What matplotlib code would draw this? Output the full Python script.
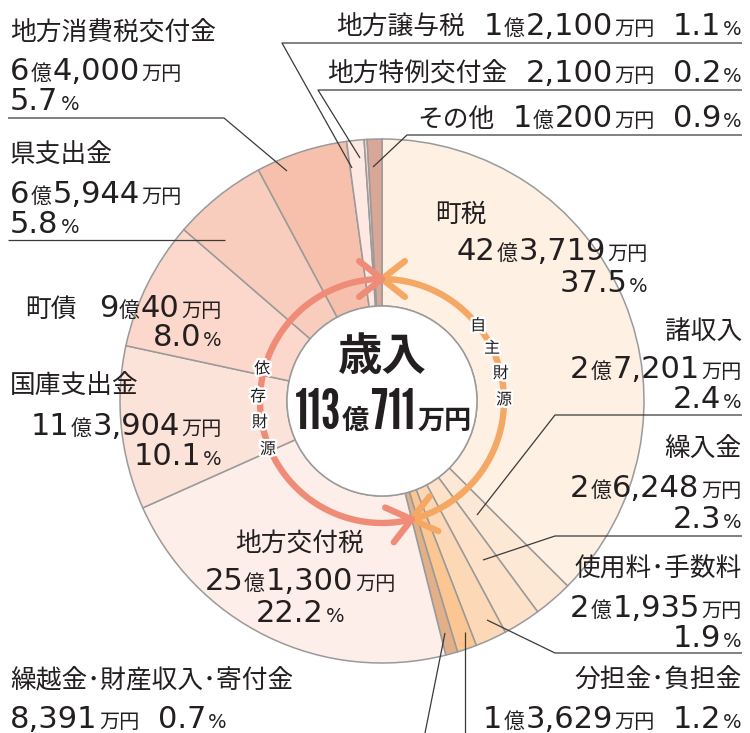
import numpy as np
import matplotlib
matplotlib.use('Agg')
import matplotlib.pyplot as plt
import matplotlib.patheffects as pe
from matplotlib.patches import Circle

# ---------------- data ----------------
categories = ['町税', '諸収入', '繰入金', '使用料･手数料', '分担金･負担金',
              '繰越金･財産収入･寄付金', '地方交付税', '国庫支出金', '町債',
              '県支出金', '地方消費税交付金', '地方譲与税', '地方特例交付金', 'その他']
amounts = [423719, 27201, 26248, 21935, 13629, 8391, 251300, 113904, 90040,
           65944, 64000, 12100, 2100, 10200]          # 万円
percents = [37.5, 2.4, 2.3, 1.9, 1.2, 0.7, 22.2, 10.1, 8.0, 5.8, 5.7, 1.1, 0.2, 0.9]
colors = ['#FEF0E3', '#FDE8D5', '#FDE1C8', '#FCD8B6', '#FBC692', '#E2B088',
          '#FDEEEA', '#FCE3DA', '#FBD8CB', '#F9CDBD', '#F6C0AC', '#FDE8E2',
          '#F9D5CA', '#D9A797']
n_self = 6                       # 自主財源 = first six categories
center_title = '歳入'
self_label = '自主財源'
dep_label = '依存財源'

# ---------------- figure ----------------
W, H = 750, 733
fig = plt.figure(figsize=(W / 100, H / 100), dpi=100)
ax = fig.add_axes([0, 0, 1, 1])
CX, CY, R_OUT, R_IN, R_ARR = 382, 401, 262, 95, 122
EDGE = '#9a9a9a'
TXT = '#231f20'

ax.pie(amounts, colors=colors, startangle=-90, counterclock=True,
       radius=R_OUT, center=(CX, CY),
       wedgeprops=dict(width=R_OUT - R_IN, edgecolor=EDGE, linewidth=1.1))
ax.add_patch(Circle((CX, CY), R_IN, facecolor='white', edgecolor=EDGE,
                    linewidth=1.1, zorder=3))
ax.set_xlim(0, W)
ax.set_ylim(H, 0)
ax.set_aspect('equal')
ax.axis('off')

renderer = fig.canvas.get_renderer()

# ---------------- arrows (自主財源 / 依存財源) ----------------
def pt(a_deg, r):
    a = np.radians(a_deg)
    return CX + r * np.cos(a), CY - r * np.sin(a)

total = sum(amounts)
self_frac = sum(amounts[:n_self]) / total
a_top = 90.0
a_bot = 90.0 - 360.0 * self_frac          # screen angle (math orientation)

ORANGE = '#F5A764'
SALMON = '#EF8C77'
LW_ARR = 4.6

def chevron(a_deg, back_sign, color):
    tip = np.array(pt(a_deg, R_ARR))
    a = np.radians(a_deg)
    t_ccw = np.array([-np.sin(a), -np.cos(a)])
    back = back_sign * t_ccw
    L = 29
    for rot in (38, -38):
        r = np.radians(rot)
        rm = np.array([[np.cos(r), -np.sin(r)], [np.sin(r), np.cos(r)]])
        d = rm @ back
        e = tip + L * d
        ax.plot([tip[0], e[0]], [tip[1], e[1]], color=color, lw=LW_ARR,
                solid_capstyle='round', zorder=5)

ang = np.linspace(a_bot + 1.5, a_top - 1.5, 200)
xs, ys = pt(ang, R_ARR)
ax.plot(xs, ys, color=ORANGE, lw=LW_ARR, solid_capstyle='round', zorder=5)
chevron(a_top, -1, ORANGE)
chevron(a_bot, +1, ORANGE)
ang = np.linspace(a_top + 1.5, a_bot + 360 - 1.5, 300)
xs, ys = pt(ang, R_ARR)
ax.plot(xs, ys, color=SALMON, lw=LW_ARR, solid_capstyle='round', zorder=5)
chevron(a_top, +1, SALMON)
chevron(a_bot + 360, -1, SALMON)

outline = [pe.withStroke(linewidth=3.5, foreground='white')]
for ch, a in zip(self_label, [38, 25.5, 13, 0.5]):
    x, y = pt(a, R_ARR)
    ax.text(x, y, ch, fontsize=11.5, family=['Noto Sans CJK JP'], color=TXT,
            ha='center', va='center', path_effects=outline, zorder=6)
for ch, a in zip(dep_label, [165, 178, 190, 203]):
    x, y = pt(a, R_ARR + 2)
    ax.text(x, y, ch, fontsize=11.5, family=['Noto Sans CJK JP'], color=TXT,
            ha='center', va='center', path_effects=outline, zorder=6)

# ---------------- text helpers ----------------
CJK = ['Noto Sans CJK JP', 'DejaVu Sans']
COND = ['League Gothic', 'Oswald', 'Barlow Condensed', 'Roboto Condensed', 'DejaVu Sans']
STY = {
    'lbl': dict(fontsize=18.5, family=CJK),
    'num': dict(fontsize=22, family=['DejaVu Sans']),
    'oku': dict(fontsize=15, family=CJK),
    'man': dict(fontsize=14.5, family=CJK),
    'pct': dict(fontsize=14, family=['DejaVu Sans']),
    'tnum': dict(fontsize=36, family=COND, weight='bold'),
    'tkan': dict(fontsize=19.5, family=CJK, weight='bold'),
}

# fit the condensed digit size so that "113" is about 50 px wide
_probe = ax.text(0, 0, '113', **STY['tnum'])
_w = _probe.get_window_extent(renderer).width
_probe.remove()
STY['tnum']['fontsize'] = float(np.clip(36 * 50.0 / _w, 24, 40))

def put_runs(x, y, parts, ha='left', zorder=7):
    items, tot = [], 0.0
    for p in parts:
        if isinstance(p, (int, float)):
            items.append((None, p))
            tot += p
            continue
        s, kind = p
        t = ax.text(0, y, s, color=TXT, va='baseline', ha='left',
                    zorder=zorder, **STY[kind])
        w = t.get_window_extent(renderer).width
        items.append((t, w))
        tot += w
    if ha == 'right':
        x0 = x - tot
    elif ha == 'center':
        x0 = x - tot / 2
    else:
        x0 = x
    for t, w in items:
        if t is not None:
            t.set_x(x0)
        x0 += w

def amount_parts(v):
    oku, man = divmod(v, 10000)
    parts = []
    if oku:
        parts += [(str(oku), 'num'), 1, ('億', 'oku'), 1]
    parts += [(f'{man:,}', 'num'), 2, ('万円', 'man')]
    return parts

def pct_parts(p):
    return [(f'{p:.1f}', 'num'), 2, ('%', 'pct')]

idx = {c: i for i, c in enumerate(categories)}
def A(c):
    return amount_parts(amounts[idx[c]])
def P(c):
    return pct_parts(percents[idx[c]])

# ---------------- labels ----------------
put_runs(10, 41, [('地方消費税交付金', 'lbl')])
put_runs(10, 80, A('地方消費税交付金'))
put_runs(10, 110, P('地方消費税交付金'))
put_runs(10, 163, [('県支出金', 'lbl')])
put_runs(10, 203, A('県支出金'))
put_runs(10, 233, P('県支出金'))
put_runs(222, 317, [('町債', 'lbl'), 22] + A('町債'), ha='right')
put_runs(222, 346, P('町債'), ha='right')
put_runs(10, 394, [('国庫支出金', 'lbl')])
put_runs(222, 435, A('国庫支出金'), ha='right')
put_runs(222, 465, P('国庫支出金'), ha='right')
put_runs(10, 688, [('繰越金･財産収入･寄付金', 'lbl')])
put_runs(10, 728, A('繰越金･財産収入･寄付金') + [18] + P('繰越金･財産収入･寄付金'))

put_runs(300, 552, [('地方交付税', 'lbl')], ha='center')
put_runs(300, 590, A('地方交付税'), ha='center')
put_runs(300, 622, P('地方交付税'), ha='center')
put_runs(435, 222, [('町税', 'lbl')])
put_runs(648, 260, A('町税'), ha='right')
put_runs(648, 292, P('町税'), ha='right')

RX = 742
put_runs(RX, 35, [('地方譲与税', 'lbl'), 18] + A('地方譲与税') + [18] + P('地方譲与税'), ha='right')
put_runs(RX, 82, [('地方特例交付金', 'lbl'), 18] + A('地方特例交付金') + [18] + P('地方特例交付金'), ha='right')
put_runs(RX, 127, [('その他', 'lbl'), 18] + A('その他') + [18] + P('その他'), ha='right')
put_runs(RX, 339, [('諸収入', 'lbl')], ha='right')
put_runs(RX, 378, A('諸収入'), ha='right')
put_runs(RX, 408, P('諸収入'), ha='right')
put_runs(RX, 457, [('繰入金', 'lbl')], ha='right')
put_runs(RX, 497, A('繰入金'), ha='right')
put_runs(RX, 528, P('繰入金'), ha='right')
put_runs(RX, 577, [('使用料･手数料', 'lbl')], ha='right')
put_runs(RX, 617, A('使用料･手数料'), ha='right')
put_runs(RX, 647, P('使用料･手数料'), ha='right')
put_runs(RX, 688, [('分担金･負担金', 'lbl')], ha='right')
put_runs(RX, 728, A('分担金･負担金') + [18] + P('分担金･負担金'), ha='right')

# center title
ax.text(CX, 357, center_title, fontsize=32, family=CJK, weight='bold', color=TXT,
        ha='center', va='center', zorder=7)
oku_t, man_t = divmod(total, 10000)
put_runs(CX + 1, 429, [(str(oku_t), 'tnum'), 1, ('億', 'tkan'), 2,
                       (str(man_t), 'tnum'), 2, ('万円', 'tkan')], ha='center')

# ---------------- leader lines ----------------
LC = '#3a3a3a'
def leader(xs, ys, color=LC, lw=0.9):
    ax.plot(xs, ys, color=color, lw=lw, zorder=6, solid_capstyle='butt')

leader([8, 224, 287], [118, 118, 171])
leader([8, 225], [240, 240])
leader([742, 282, 352], [43, 43, 168])
leader([742, 318, 360], [90, 90, 158])
leader([742, 407, 373], [135, 135, 167])
leader([742, 555, 477], [415, 415, 515])
leader([742, 555, 483], [536, 536, 560])
leader([742, 555, 487], [653, 653, 620])
leader([465, 465], [733, 632])
leader([425, 445], [733, 633])

fig.savefig('out.png', dpi=100)
